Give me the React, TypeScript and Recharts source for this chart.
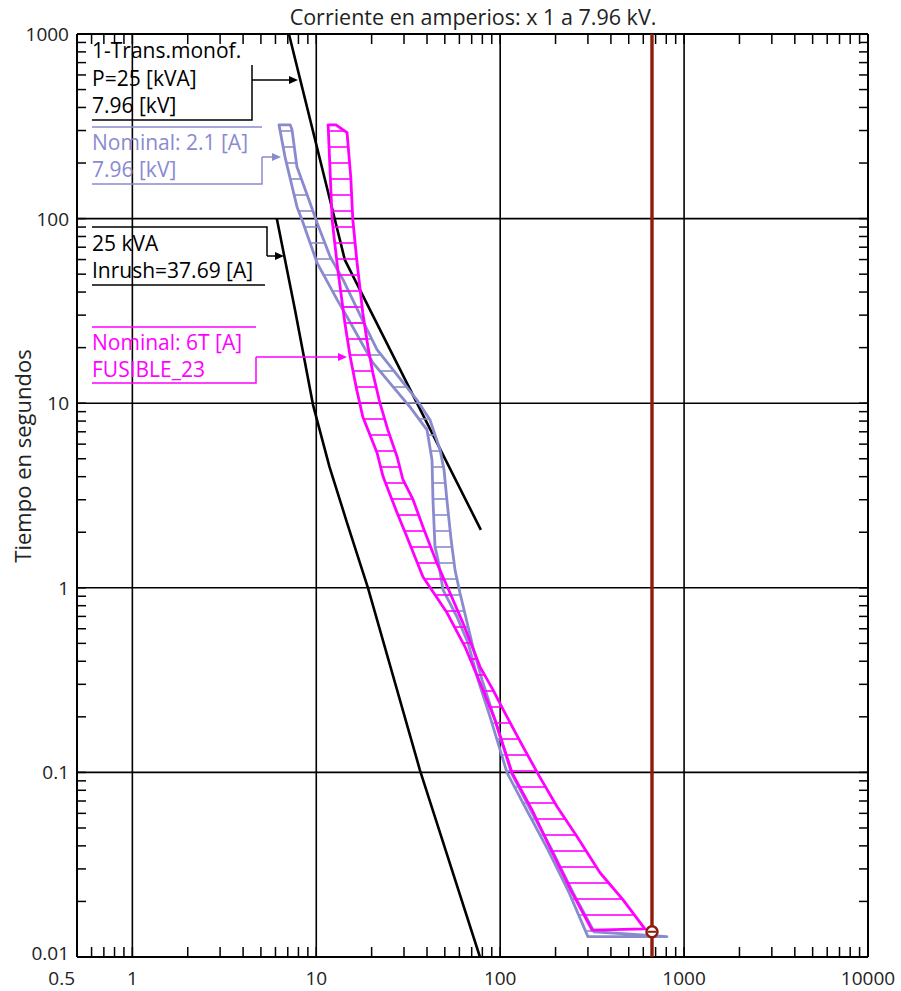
import React from "react";
import { ComposedChart, XAxis, YAxis, Scatter, ReferenceLine } from "recharts";

const FONT = '"Open Sans", "DejaVu Sans", sans-serif';
const BLUE = "#8a8acf";
const MAGENTA = "#ff00ff";
const RED = "#8e1b0b";

// ejes: corriente (A) / tiempo (s)
const X_LABELS = [0.5, 1, 10, 100, 1000, 10000];
const Y_LABELS = [0.01, 0.1, 1, 10, 100, 1000];
const X_GRID = [1, 10, 100, 1000];
const Y_GRID = [0.1, 1, 10, 100];
const MINOR_STEPS = [2, 3, 4, 5, 6, 7, 8, 9];

// 1-Trans.monof. P=25 kVA, curva de daño
const DAMAGE_I = [7.1, 14.3, 78.5];
const DAMAGE_T = [1000, 59.8, 2.06];

// 25 kVA inrush
const INRUSH_I = [6.1, 7.66, 9.6, 11.8, 14.7, 19.1, 36.6, 77.6];
const INRUSH_T = [100, 32.1, 9.8, 4.52, 2.25, 1.0, 0.103, 0.01];

// Nominal 2.1 A - fusión mínima / despeje total
const F21_MM_I = [6.27, 6.76, 7.85, 8.36, 10.1, 13.0, 14.7, 17.3, 20.3, 26.1, 32.3, 40.0, 42.6, 43.1, 44.2, 45.9, 48.9, 58.2, 66.8, 75.7, 88.1, 109, 142, 182, 237, 300];
const F21_MM_T = [322, 216, 116, 98.6, 57.6, 36.3, 29.4, 22.0, 16.6, 12.3, 9.56, 7.17, 4.93, 3.0, 1.67, 1.42, 0.975, 0.697, 0.504, 0.318, 0.2, 0.0995, 0.0604, 0.0381, 0.0223, 0.0129];
const F21_TC_I = [7.22, 7.38, 7.85, 9.01, 10.1, 11.9, 14.0, 18.9, 21.4, 26.1, 35.3, 41.5, 47.1, 49.5, 51.3, 54.1, 56.8, 60.4, 71.1, 79.6, 92.5, 115, 149, 191, 249, 324, 807];
const F21_TC_T = [322, 303, 191, 131, 94.9, 62.1, 46.6, 25.0, 19.5, 15.2, 10.4, 8.13, 5.6, 4.36, 3.0, 1.82, 1.25, 0.94, 0.479, 0.318, 0.2, 0.0995, 0.0604, 0.0381, 0.0223, 0.0137, 0.0129];

// FUSIBLE_23, 6T
const F6T_MM_I = [11.6, 12.2, 12.6, 13.1, 14.3, 15.3, 16.6, 17.9, 21.4, 23.1, 27.5, 31.1, 38.0, 51.4, 64.4, 77.7, 93.7, 116, 149, 189, 246, 316];
const F6T_MM_T = [322, 98.6, 73.9, 52.8, 27.3, 17.8, 11.8, 8.44, 5.39, 3.99, 2.55, 1.89, 1.147, 0.732, 0.479, 0.306, 0.193, 0.0995, 0.0627, 0.0381, 0.0223, 0.014];
const F6T_TC_I = [12.8, 14.7, 15.4, 15.8, 16.6, 17.9, 19.1, 20.3, 22.2, 24.5, 27.5, 29.6, 33.6, 38.0, 45.3, 53.3, 62.7, 77.7, 91.4, 104, 133, 164, 204, 262, 349, 466, 612];
const F6T_TC_T = [322, 292, 168, 98.6, 59.8, 30.9, 20.2, 14.6, 10.0, 7.17, 5.13, 3.85, 3.0, 2.14, 1.36, 0.94, 0.646, 0.373, 0.28, 0.218, 0.138, 0.0946, 0.0651, 0.0448, 0.0286, 0.0204, 0.0142];

// corriente de falla
const FAULT_I = [669, 669];
const FAULT_T = [0.01, 1000];
const MARK_I = [669];
const MARK_T = [0.0137];

type Pt = { x: number; y: number };
const zip = (xs: number[], ys: number[]): Pt[] => xs.map((x, i) => ({ x, y: ys[i] }));

const minor = (decades: number[], lo: number, hi: number) =>
  decades.flatMap((d) => MINOR_STEPS.map((k) => +(d * k).toPrecision(3))).filter((v) => v > lo && v < hi);

const X_TICKS = [...X_LABELS, ...minor([0.1, 1, 10, 100, 1000], 0.5, 10000)].sort((a, b) => a - b);
const Y_TICKS = [...Y_LABELS, ...minor([0.01, 0.1, 1, 10, 100], 0.01, 1000)].sort((a, b) => a - b);

const damage = zip(DAMAGE_I, DAMAGE_T);
const inrush = zip(INRUSH_I, INRUSH_T);
const band21 = [...zip(F21_MM_I, F21_MM_T), ...zip(F21_TC_I, F21_TC_T).reverse()];
const band6T = [...zip(F6T_MM_I, F6T_MM_T), ...zip(F6T_TC_I, F6T_TC_T).reverse()];
const fault = zip(FAULT_I, FAULT_T);
const mark = zip(MARK_I, MARK_T);

const toPath = (pts: { x: number; y: number }[], closed: boolean) =>
  pts.map((p, i) => `${i ? "L" : "M"}${p.x},${p.y}`).join(" ") + (closed ? " Z" : "");

const polyline = (color: string, width: number) => (props: any) => (
  <path d={toPath(props.points, false)} fill="none" stroke={color} strokeWidth={width} strokeLinejoin="round" />
);

const hatchedBand = (color: string, id: string) => (props: any) => (
  <g>
    <defs>
      <pattern id={id} patternUnits="userSpaceOnUse" x={0} y={0} width={8} height={16}>
        <line x1={0} x2={8} y1={3} y2={3} stroke={color} strokeWidth={1.6} />
      </pattern>
    </defs>
    <path d={toPath(props.points, true)} fill={`url(#${id})`} stroke={color} strokeWidth={2.8} strokeLinejoin="round" />
  </g>
);

const noDot = () => <g />;

const tickText = { fontFamily: FONT, fontSize: 19, fill: "#222" };

function BottomTick(p: any) {
  const v = p.payload.value;
  const lab = X_LABELS.includes(v);
  return (
    <g>
      <line x1={p.x} x2={p.x} y1={p.y} y2={p.y - 10} stroke="#000" strokeWidth={1.5} />
      {lab && (
        <text x={v === 0.5 ? p.x - 2 : p.x} y={p.y + 28} textAnchor={v === 0.5 ? "end" : "middle"} {...tickText}>
          {v}
        </text>
      )}
    </g>
  );
}

function TopTick(p: any) {
  return <line x1={p.x} x2={p.x} y1={p.y} y2={p.y + 10} stroke="#000" strokeWidth={1.5} />;
}

function LeftTick(p: any) {
  const v = p.payload.value;
  const lab = Y_LABELS.includes(v);
  // la etiqueta inferior sube un poco para no pisar el 0.5 del eje x
  const dy = v === 0.01 ? 3 : 7;
  return (
    <g>
      <line x1={p.x} x2={p.x + 9} y1={p.y} y2={p.y} stroke="#000" strokeWidth={1.5} />
      {lab && (
        <text x={p.x - 8} y={p.y + dy} textAnchor="end" {...tickText}>
          {v}
        </text>
      )}
    </g>
  );
}

function RightTick(p: any) {
  return <line x1={p.x} x2={p.x - 9} y1={p.y} y2={p.y} stroke="#000" strokeWidth={1.5} />;
}

function Arrow({ x1, x2, y, color }: { x1: number; x2: number; y: number; color: string }) {
  return (
    <g>
      <line x1={x1} x2={x2 - 6} y1={y} y2={y} stroke={color} strokeWidth={1.5} />
      <polygon points={`${x2},${y} ${x2 - 9},${y - 4} ${x2 - 9},${y + 4}`} fill={color} />
    </g>
  );
}

function Annotations() {
  const t = { fontFamily: FONT, fontSize: 21 };
  return (
    <svg width={901} height={991} style={{ position: "absolute", left: 0, top: 0, pointerEvents: "none" }}>
      <text x={473} y={25} textAnchor="middle" fontFamily={FONT} fontSize={21.5} fill="#222">
        Corriente en amperios: x 1 a 7.96 kV.
      </text>
      <text transform="translate(31,456) rotate(-90)" textAnchor="middle" fontFamily={FONT} fontSize={22} fill="#222">
        Tiempo en segundos
      </text>

      {/* transformador */}
      <text x={92} y={58} {...t} fill="#000">1-Trans.monof.</text>
      <text x={92} y={86} {...t} fill="#000">P=25 [kVA]</text>
      <text x={92} y={113} {...t} fill="#000">7.96 [kV]</text>
      <polyline points="92,120 252,120 252,65" fill="none" stroke="#000" strokeWidth={1.5} />
      <Arrow x1={252} x2={298} y={80} color="#000" />

      {/* fusible 2.1 A */}
      <line x1={92} x2={262} y1={127} y2={127} stroke={BLUE} strokeWidth={1.5} />
      <text x={92} y={150} {...t} fill={BLUE}>Nominal: 2.1 [A]</text>
      <text x={92} y={177} {...t} fill={BLUE}>7.96 [kV]</text>
      <polyline points="92,184 262,184 262,157" fill="none" stroke={BLUE} strokeWidth={1.5} />
      <Arrow x1={262} x2={281} y={157} color={BLUE} />

      {/* inrush */}
      <polyline points="92,227 267,227 267,256" fill="none" stroke="#000" strokeWidth={1.5} />
      <text x={92} y={251} {...t} fill="#000">25 kVA</text>
      <text x={92} y={278} {...t} fill="#000">Inrush=37.69 [A]</text>
      <line x1={92} x2={265} y1={285} y2={285} stroke="#000" strokeWidth={1.5} />
      <Arrow x1={267} x2={284} y={256} color="#000" />

      {/* fusible 6T */}
      <line x1={92} x2={256} y1={327} y2={327} stroke={MAGENTA} strokeWidth={1.5} />
      <text x={92} y={350} {...t} fill={MAGENTA}>Nominal: 6T [A]</text>
      <text x={92} y={377} {...t} fill={MAGENTA}>FUSIBLE_23</text>
      <polyline points="92,383 256,383 256,357" fill="none" stroke={MAGENTA} strokeWidth={1.5} />
      <Arrow x1={256} x2={347} y={357} color={MAGENTA} />
    </svg>
  );
}

export default function App() {
  const axisLine = { stroke: "#000", strokeWidth: 2 };
  return (
    <div style={{ position: "absolute", left: 0, top: 0, width: 901, height: 991, background: "#fff" }}>
      <ComposedChart width={901} height={991} margin={{ top: 24, right: 23, bottom: 4, left: 7 }}>
        <XAxis
          dataKey="x"
          type="number"
          scale="log"
          domain={[0.5, 10000]}
          allowDataOverflow
          ticks={X_TICKS}
          interval={0}
          tickSize={0}
          tickMargin={0}
          tickLine={false}
          axisLine={axisLine}
          tick={(p: any) => <BottomTick {...p} />}
          height={30}
        />
        <XAxis
          xAxisId="top"
          orientation="top"
          dataKey="x"
          type="number"
          scale="log"
          domain={[0.5, 10000]}
          allowDataOverflow
          ticks={X_TICKS}
          interval={0}
          tickSize={0}
          tickMargin={0}
          tickLine={false}
          axisLine={axisLine}
          tick={(p: any) => <TopTick {...p} />}
          height={10}
        />
        <YAxis
          dataKey="y"
          type="number"
          scale="log"
          domain={[0.01, 1000]}
          allowDataOverflow
          ticks={Y_TICKS}
          interval={0}
          tickSize={0}
          tickMargin={0}
          tickLine={false}
          axisLine={axisLine}
          tick={(p: any) => <LeftTick {...p} />}
          width={70}
        />
        <YAxis
          yAxisId="right"
          orientation="right"
          dataKey="y"
          type="number"
          scale="log"
          domain={[0.01, 1000]}
          allowDataOverflow
          ticks={Y_TICKS}
          interval={0}
          tickSize={0}
          tickMargin={0}
          tickLine={false}
          axisLine={axisLine}
          tick={(p: any) => <RightTick {...p} />}
          width={10}
        />
        {X_GRID.map((v) => (
          <ReferenceLine key={`gx${v}`} x={v} stroke="#000" strokeWidth={1.6} />
        ))}
        {Y_GRID.map((v) => (
          <ReferenceLine key={`gy${v}`} y={v} stroke="#000" strokeWidth={1.6} />
        ))}
        <Scatter data={damage} line={polyline("#000", 2.6)} shape={noDot} isAnimationActive={false} />
        <Scatter data={inrush} line={polyline("#000", 2.6)} shape={noDot} isAnimationActive={false} />
        <Scatter data={band21} line={hatchedBand(BLUE, "hatch21")} shape={noDot} isAnimationActive={false} />
        <Scatter data={band6T} line={hatchedBand(MAGENTA, "hatch6t")} shape={noDot} isAnimationActive={false} />
        <Scatter data={fault} line={polyline(RED, 3.4)} shape={noDot} isAnimationActive={false} />
        <Scatter
          data={mark}
          isAnimationActive={false}
          shape={(p: any) => (
            <g>
              <circle cx={p.cx} cy={p.cy} r={5.5} fill="#fff" stroke={RED} strokeWidth={2.5} />
              <line x1={p.cx - 4} x2={p.cx + 4} y1={p.cy} y2={p.cy} stroke={RED} strokeWidth={2} />
            </g>
          )}
        />
      </ComposedChart>
      <Annotations />
    </div>
  );
}
